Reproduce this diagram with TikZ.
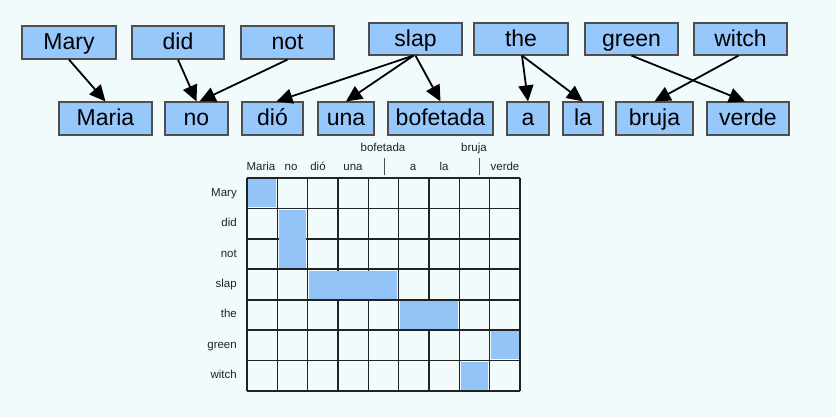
\documentclass[tikz,border=0pt]{standalone}
\usepackage{fontspec}
\setmainfont{Liberation Sans}
\usetikzlibrary{arrows.meta}
\definecolor{wordblue}{HTML}{96C8FC}
\definecolor{cellblue}{HTML}{93C4F8}
\definecolor{paper}{HTML}{F2FBFB}
\definecolor{ink}{HTML}{222222}

\begin{document}
\begin{tikzpicture}[x=1pt,y=-1pt,->,>={Triangle[length=16pt,width=15pt]}]
  \tikzstyle{word}=[draw=ink!80,line width=1.2pt,fill=wordblue,inner sep=0pt,minimum height=33pt,text height=21pt,text depth=6pt,font=\fontsize{23}{23}\selectfont]
  \tikzstyle{link}=[line width=1.8pt,black]
  \tikzstyle{lbl}=[inner sep=0pt,text=ink,text height=8.5pt,text depth=2.5pt,font=\fontsize{11.5}{11.5}\selectfont]
  \fill[paper] (0,0) rectangle (836,417);

  % English words
  \node[word,minimum width=94pt] (Mary) at (69,42.5) {Mary};
  \node[word,minimum width=92pt] (did) at (178,42.5) {did};
  \node[word,minimum width=93pt] (not) at (287.5,42.5) {not};
  \node[word,minimum width=93pt,minimum height=32pt] (slap) at (415.5,39) {slap};
  \node[word,minimum width=94pt,minimum height=32pt] (the) at (521,39) {the};
  \node[word,minimum width=93pt,minimum height=32pt] (green) at (631.5,39) {green};
  \node[word,minimum width=93pt,minimum height=32pt] (witch) at (740.5,39) {witch};

  % Spanish words
  \node[word,minimum width=93pt] (Maria) at (105.5,118.5) {Maria};
  \node[word,minimum width=63pt] (no) at (196.5,118.5) {no};
  \node[word,minimum width=61pt] (dio) at (272.5,118.5) {dió};
  \node[word,minimum width=56pt] (una) at (346,118.5) {una};
  \node[word,minimum width=105pt] (bofetada) at (440.5,118.5) {bofetada};
  \node[word,minimum width=42pt] (a) at (528,118.5) {a};
  \node[word,minimum width=40pt] (la) at (583,118.5) {la};
  \node[word,minimum width=77pt] (bruja) at (654.5,118.5) {bruja};
  \node[word,minimum width=82pt] (verde) at (748,118.5) {verde};

  \draw[link] (Mary.south) -- (Maria.north);
  \draw[link] (did.south) -- (no.north);
  \draw[link] (not.south) -- ([xshift=3pt]no.north);
  \draw[link] ([xshift=-2pt]slap.south) -- ([xshift=4pt]dio.north);
  \draw[link] ([xshift=-2pt]slap.south) -- (una.north);
  \draw[link] (slap.south) -- (bofetada.north);
  \draw[link] ([xshift=1pt]the.south) -- (a.north);
  \draw[link] ([xshift=1pt]the.south) -- (la.north);
  \draw[link] (green.south) -- ([xshift=-3pt]verde.north);
  \draw[link] ([xshift=-2pt]witch.south) -- (bruja.north);

  % alignment grid
  \begin{scope}[shift={(247,178)},x=30.33pt,y=-30.43pt,-]
    \foreach \c in {0,...,9}
      \draw[ink,line width=1.6pt] (\c,0) -- (\c,7);
    \foreach \r in {0,...,7}
      \draw[ink,line width=1.6pt] (0,\r) -- (9,\r);
    \fill[cellblue] (0.04,0.04) rectangle (0.96,0.96);
    \fill[cellblue] (1.04,1.04) rectangle (1.96,2.96);
    \fill[cellblue] (2.04,3.04) rectangle (4.96,3.96);
    \fill[cellblue] (5.04,4.04) rectangle (6.96,4.96);
    \fill[cellblue] (8.04,5.04) rectangle (8.96,5.96);
    \fill[cellblue] (7.04,6.04) rectangle (7.96,6.96);
    \foreach \w [count=\i] in {Mary,did,not,slap,the,green,witch}
      \node[lbl,anchor=east] (row\i) at (-0.33,\i-0.5) {\w};
  \end{scope}

  \foreach \x/\w/\n in {261/Maria/c1,291/no/c2,318/dió/c3,353/una/c4,413/a/c6,444/la/c7,505/verde/c9}
    \node[lbl] (\n) at (\x,167.5) {\w};
  \node[lbl] (c5) at (383,148.5) {bofetada};
  \node[lbl] (c8) at (474,148.5) {bruja};
  \draw[-,ink!80,line width=0.8pt] (384,158) -- (384,175);
  \draw[-,ink!80,line width=0.8pt] (479,158) -- (479,175);
\end{tikzpicture}
\end{document}
